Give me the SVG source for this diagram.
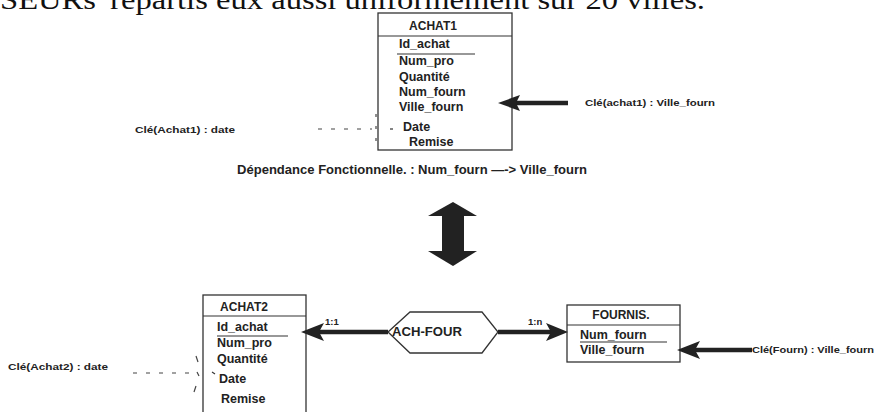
<svg xmlns="http://www.w3.org/2000/svg" width="876" height="412" viewBox="0 0 876 412">
<defs>
<style>
.box{fill:#fff;stroke:#333;stroke-width:1.3}
.ln{stroke:#333;stroke-width:1.2;fill:none}
.t{font-family:"Liberation Sans",Arial,sans-serif;font-weight:bold;font-size:12.5px;fill:#222}
.h{font-family:"Liberation Sans",Arial,sans-serif;font-weight:bold;font-size:12px;fill:#222}
.s{font-family:"Liberation Sans",Arial,sans-serif;font-weight:bold;font-size:9.5px;fill:#222}
.dash{stroke:#444;stroke-width:1.2;stroke-dasharray:4,9;fill:none}
.thick{stroke:#222;stroke-width:4.5;fill:none}
.head{fill:#222}
</style>
</defs>
<rect width="876" height="412" fill="#fff"/>
<text x="0" y="9" font-family="Liberation Serif,'Times New Roman',serif" font-size="27" fill="#111" textLength="705" lengthAdjust="spacingAndGlyphs">SEURs' répartis eux aussi uniformément sur 20 villes.</text>

<g id="achat1">
<rect class="box" x="378" y="13" width="134" height="137"/>
<line class="ln" x1="378" y1="36" x2="512" y2="36"/>
<text class="h" x="433" y="30" text-anchor="middle">ACHAT1</text>
<text class="t" x="399" y="48">Id_achat</text>
<line class="ln" x1="397" y1="54" x2="475" y2="54"/>
<text class="t" x="399" y="65">Num_pro</text>
<text class="t" x="399" y="81">Quantité</text>
<text class="t" x="399" y="96">Num_fourn</text>
<text class="t" x="399" y="111">Ville_fourn</text>
<text class="t" x="403" y="131">Date</text>
<text class="t" x="409" y="146">Remise</text>
</g>

<g id="label-cle-achat1-date"><text class="s" x="135" y="133" textLength="100" lengthAdjust="spacingAndGlyphs">Clé(Achat1) : date</text></g>
<g id="label-cle-achat1-ville"><text class="s" x="585" y="106" textLength="130" lengthAdjust="spacingAndGlyphs">Clé(achat1) : Ville_fourn</text></g>
<g id="label-df"><text class="t" x="412" y="174" text-anchor="middle" font-size="12" textLength="350" lengthAdjust="spacingAndGlyphs">Dépendance Fonctionnelle. : Num_fourn —-&gt; Ville_fourn</text></g>

<g id="achat2">
<rect class="box" x="203" y="295" width="103" height="130"/>
<line class="ln" x1="203" y1="316" x2="306" y2="316"/>
<text class="h" x="244" y="311" text-anchor="middle">ACHAT2</text>
<text class="t" x="217" y="331">Id_achat</text>
<line class="ln" x1="217" y1="336" x2="288" y2="336"/>
<text class="t" x="217" y="347">Num_pro</text>
<text class="t" x="217" y="363">Quantité</text>
<text class="t" x="219" y="383">Date</text>
<text class="t" x="221" y="403">Remise</text>
</g>

<g id="ach-four">
<polygon class="box" points="388,332 410,312 482,312 498,332 482,353 410,353"/>
<text class="h" x="392" y="336" textLength="70" lengthAdjust="spacingAndGlyphs">ACH-FOUR</text>
</g>

<g id="fournis">
<rect class="box" x="567" y="305" width="113" height="57"/>
<line class="ln" x1="567" y1="325" x2="680" y2="325"/>
<text class="h" x="621" y="319" text-anchor="middle">FOURNIS.</text>
<text class="t" x="580" y="339">Num_fourn</text>
<line class="ln" x1="580" y1="342" x2="667" y2="342"/>
<text class="t" x="580" y="354">Ville_fourn</text>
</g>

<g id="label-cle-achat2-date"><text class="s" x="8" y="370" textLength="100" lengthAdjust="spacingAndGlyphs">Clé(Achat2) : date</text></g>
<g id="label-cle-fourn"><text class="s" x="752" y="353" textLength="122" lengthAdjust="spacingAndGlyphs">Clé(Fourn) : Ville_fourn</text></g>

<g id="connectors">
<line class="dash" x1="318" y1="129" x2="372" y2="129"/>
<path class="dash" d="M376,114 L376,146" style="stroke-dasharray:3,9"/>
<line class="ln" x1="390" y1="129" x2="396" y2="129" style="stroke-dasharray:3,3"/>
<line class="thick" x1="568" y1="103" x2="512" y2="103"/>
<polygon class="head" points="498,103 520,95 516,103 520,111"/>
<rect class="head" x="442" y="213" width="22" height="41"/>
<polygon class="head" points="453,202 477,216 428,216"/>
<polygon class="head" points="453,266 477,251 428,251"/>
<line class="thick" x1="388" y1="332" x2="315" y2="332"/>
<polygon class="head" points="301,332 324,323 319,332 324,341"/>
<text class="s" x="325" y="325">1:1</text>
<line class="thick" x1="498" y1="332" x2="555" y2="332"/>
<polygon class="head" points="568,332 546,323 551,332 546,341"/>
<text class="s" x="528" y="325">1:n</text>
<line class="thick" x1="752" y1="350" x2="690" y2="350"/>
<polygon class="head" points="677,350 700,341 695,350 700,359"/>
<line class="dash" x1="133" y1="373" x2="190" y2="373"/>
<path class="dash" d="M196,356 L198,362 M197,372 L199,376 M196,386 L194,392" style="stroke-dasharray:none"/>
<line class="ln" x1="212" y1="372" x2="215" y2="374"/>
</g>
</svg>
